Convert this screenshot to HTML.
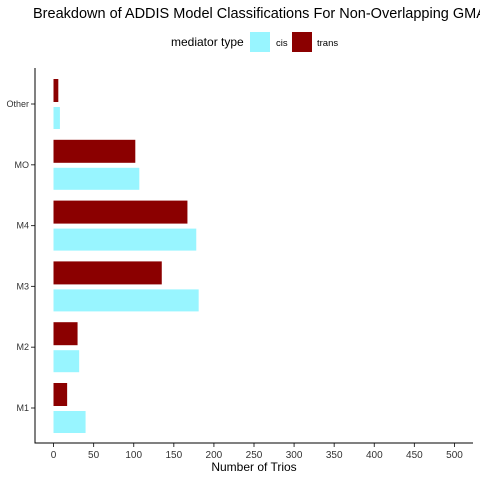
<!DOCTYPE html>
<html><head><meta charset="utf-8"><style>
body{margin:0;background:#fff;font-family:"Liberation Sans",sans-serif}
svg text{font-family:"Liberation Sans",sans-serif}
</style></head><body>
<svg width="480" height="480">
<text x="33" y="18" font-size="14.5" fill="#000">Breakdown of ADDIS Model Classifications For Non-Overlapping GMAP</text>
<g>
<text x="171" y="46" font-size="12">mediator type</text>
<rect x="250" y="32" width="20" height="20" fill="#98F5FF"/>
<text x="276" y="46" font-size="9.5">cis</text>
<rect x="292" y="32" width="20" height="20" fill="#8B0000"/>
<text x="317" y="46" font-size="9.5">trans</text>
</g>
<g id="plot"></g>
<text x="254" y="471" font-size="12" text-anchor="middle">Number of Trios</text>
</svg>
<script>
const categories=["Other","MO","M4","M3","M2","M1"];
const transValues=[6,102,167,135,30,17];
const cisValues=[8,107,178,181,32,40];
const xTicks=[0,50,100,150,200,250,300,350,400,450,500];
const NS="http://www.w3.org/2000/svg";
const g=document.getElementById("plot");
const x=v=>53.5+v*0.802;
const y=i=>104+i*60.8;
function mk(t,a){const e=document.createElementNS(NS,t);for(const k in a)e.setAttribute(k,a[k]);g.appendChild(e);return e;}
categories.forEach((c,i)=>{
 const cy=y(i);
 let r=mk("rect",{x:x(0),y:cy-25,width:x(transValues[i])-x(0),height:23,fill:"#8B0000"});
 
 
 r=mk("rect",{x:x(0),y:cy+3,width:x(cisValues[i])-x(0),height:22,fill:"#98F5FF"});
 
 
 let t=mk("line",{x1:31,x2:35,y1:cy,y2:cy,stroke:"#333"});
 
 
 let l=mk("text",{x:29,y:cy+3,"font-size":"9","text-anchor":"end",fill:"#333"});
 l.textContent=c;
 
 
});
xTicks.forEach(v=>{
 let t=mk("line",{x1:x(v),x2:x(v),y1:443,y2:447,stroke:"#333"});
 
 
 let l=mk("text",{x:x(v),y:458,"font-size":"10","text-anchor":"middle",fill:"#333"});
 l.textContent=v;
 
 
});
let a=mk("line",{x1:35,x2:35,y1:68,y2:443.5,stroke:"#000"});


a=mk("line",{x1:34.5,x2:473,y1:443,y2:443,stroke:"#000"});


</script>
</body></html>
